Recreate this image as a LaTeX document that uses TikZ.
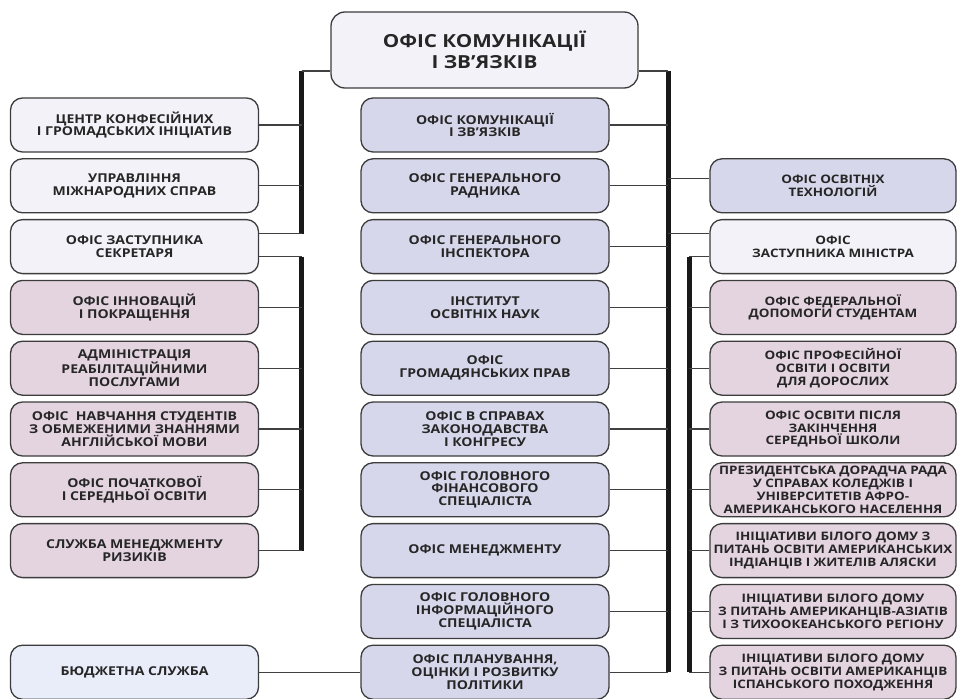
\documentclass[tikz,border=0pt]{standalone}
\usepackage{fontspec}
\newfontfamily\orgfont{Open Sans}[FakeStretch=1.15]
\usetikzlibrary{shapes}
\definecolor{paleface}{HTML}{F3F2F8}
\definecolor{bluface}{HTML}{D6D7EA}
\definecolor{pinkface}{HTML}{E3D4E0}
\definecolor{skyface}{HTML}{E9EDFA}
\definecolor{edgegray}{HTML}{3C3C3C}
\tikzstyle{office}=[draw=edgegray, line width=1.3, rounded corners=12,
  minimum width=248, minimum height=54, align=center, inner sep=2,
  text=black!85, font=\orgfont\bfseries\fontsize{12.2}{12.8}\selectfont]
\tikzstyle{rightoffice}=[office, minimum width=246, inner xsep=1,
  font=\orgfont\bfseries\fontsize{11.7}{12.8}\selectfont]
\tikzstyle{link}=[draw=black!75, line width=1.2]
\tikzstyle{bar}=[draw=black!90, line width=5]
\tikzset{every picture/.style={x=1pt,y=-1pt}}
\begin{document}
\begin{tikzpicture}
  \useasboundingbox (0,0) rectangle (957,698);
  % head office
  \node[office, fill=paleface, minimum width=307, minimum height=76, rounded corners=14,
    font=\orgfont\bfseries\fontsize{18}{21}\selectfont] (top) at (484.5,50) {ОФІС КОМУНІКАЦІЇ\\І ЗВ’ЯЗКІВ};
  % left column
  \node[office, fill=paleface] (l1) at (134.5,125) {ЦЕНТР КОНФЕСІЙНИХ\\І ГРОМАДСЬКИХ ІНІЦІАТИВ};
  \node[office, fill=paleface] (l2) at (134.5,185.8) {УПРАВЛІННЯ\\МІЖНАРОДНИХ СПРАВ};
  \node[office, fill=paleface] (l3) at (134.5,246.6) {ОФІС ЗАСТУПНИКА\\СЕКРЕТАРЯ};
  \node[office, fill=pinkface] (l4) at (134.5,307.4) {ОФІС ІННОВАЦІЙ\\І ПОКРАЩЕННЯ};
  \node[office, fill=pinkface] (l5) at (134.5,368.2) {АДМІНІСТРАЦІЯ\\РЕАБІЛІТАЦІЙНИМИ\\ПОСЛУГАМИ};
  \node[office, fill=pinkface] (l6) at (134.5,429) {ОФІС \ НАВЧАННЯ СТУДЕНТІВ\\З ОБМЕЖЕНИМИ ЗНАННЯМИ\\АНГЛІЙСЬКОЇ МОВИ};
  \node[office, fill=pinkface] (l7) at (134.5,489.8) {ОФІС ПОЧАТКОВОЇ\\І СЕРЕДНЬОЇ ОСВІТИ};
  \node[office, fill=pinkface] (l8) at (134.5,550.6) {СЛУЖБА МЕНЕДЖМЕНТУ\\РИЗИКІВ};
  \node[office, fill=skyface] (l10) at (134.5,672.2) {БЮДЖЕТНА СЛУЖБА};
  % middle column
  \node[office, fill=bluface] (m1) at (485,125) {ОФІС КОМУНІКАЦІЇ\\І ЗВ’ЯЗКІВ};
  \node[office, fill=bluface] (m2) at (485,185.8) {ОФІС ГЕНЕРАЛЬНОГО\\РАДНИКА};
  \node[office, fill=bluface] (m3) at (485,246.6) {ОФІС ГЕНЕРАЛЬНОГО\\ІНСПЕКТОРА};
  \node[office, fill=bluface] (m4) at (485,307.4) {ІНСТИТУТ\\ОСВІТНІХ НАУК};
  \node[office, fill=bluface] (m5) at (485,368.2) {ОФІС\\ГРОМАДЯНСЬКИХ ПРАВ};
  \node[office, fill=bluface] (m6) at (485,429) {ОФІС В СПРАВАХ\\ЗАКОНОДАВСТВА\\І КОНГРЕСУ};
  \node[office, fill=bluface] (m7) at (485,489.8) {ОФІС ГОЛОВНОГО\\ФІНАНСОВОГО\\СПЕЦІАЛІСТА};
  \node[office, fill=bluface] (m8) at (485,550.6) {ОФІС МЕНЕДЖМЕНТУ};
  \node[office, fill=bluface] (m9) at (485,611.4) {ОФІС ГОЛОВНОГО\\ІНФОРМАЦІЙНОГО\\СПЕЦІАЛІСТА};
  \node[office, fill=bluface] (m10) at (485,672.2) {ОФІС ПЛАНУВАННЯ,\\ОЦІНКИ І РОЗВИТКУ\\ПОЛІТИКИ};
  % right column
  \node[rightoffice, fill=bluface] (r2) at (833,185.8) {ОФІС ОСВІТНІХ\\ТЕХНОЛОГІЙ};
  \node[rightoffice, fill=paleface] (r3) at (833,246.6) {ОФІС\\ЗАСТУПНИКА МІНІСТРА};
  \node[rightoffice, fill=pinkface] (r4) at (833,307.4) {ОФІС ФЕДЕРАЛЬНОЇ\\ДОПОМОГИ СТУДЕНТАМ};
  \node[rightoffice, fill=pinkface] (r5) at (833,368.2) {ОФІС ПРОФЕСІЙНОЇ\\ОСВІТИ І ОСВІТИ\\ДЛЯ ДОРОСЛИХ};
  \node[rightoffice, fill=pinkface] (r6) at (833,429) {ОФІС ОСВІТИ ПІСЛЯ\\ЗАКІНЧЕННЯ\\СЕРЕДНЬОЇ ШКОЛИ};
  \node[rightoffice, fill=pinkface] (r7) at (833,489.8) {ПРЕЗИДЕНТСЬКА ДОРАДЧА РАДА\\У СПРАВАХ КОЛЕДЖІВ І\\УНІВЕРСИТЕТІВ АФРО-\\АМЕРИКАНСЬКОГО НАСЕЛЕННЯ};
  \node[rightoffice, fill=pinkface] (r8) at (833,550.6) {ІНІЦІАТИВИ БІЛОГО ДОМУ З\\ПИТАНЬ ОСВІТИ АМЕРИКАНСЬКИХ\\ІНДІАНЦІВ І ЖИТЕЛІВ АЛЯСКИ};
  \node[rightoffice, fill=pinkface] (r9) at (833,611.4) {ІНІЦІАТИВИ БІЛОГО ДОМУ\\З ПИТАНЬ АМЕРИКАНЦІВ-АЗІАТІВ\\І З ТИХООКЕАНСЬКОГО РЕГІОНУ};
  \node[rightoffice, fill=pinkface] (r10) at (833,672.2) {ІНІЦІАТИВИ БІЛОГО ДОМУ\\З ПИТАНЬ ОСВІТИ АМЕРИКАНЦІВ\\ІСПАНСЬКОГО ПОХОДЖЕННЯ};
  % bars
  \coordinate (lbar) at (301.5,71);
  \coordinate (lbarend) at (301.5,233.6);
  \coordinate (lbar2) at (301.5,256.6);
  \coordinate (lbar2end) at (301.5,550.6);
  \coordinate (mbar) at (668,71);
  \coordinate (mbarend) at (668,672.2);
  \coordinate (rbar) at (689,256.6);
  \coordinate (rbarend) at (689,672.2);
  \draw[bar] (lbar) -- (lbarend);
  \draw[bar] (lbar2) -- (lbar2end);
  \draw[bar] (mbar) -- (mbarend);
  \draw[bar] (rbar) -- (rbarend);
  % links
  \draw[link] (lbar) -- (lbar -| top.west);
  \draw[link] (mbar) -- (mbar -| top.east);
  \foreach \i in {1,2}
    \draw[link] (l\i.east) -- (l\i.east -| lbar);
  \draw[link] (lbarend) -- (lbarend -| l3.east);
  \draw[link] (lbar2) -- (lbar2 -| l3.east);
  \foreach \i in {4,...,8}
    \draw[link] (l\i.east) -- (l\i.east -| lbar);
  \draw[link] (l10) -- (m10);
  \foreach \i in {1,...,10}
    \draw[link] (m\i.east) -- (m\i.east -| mbar);
  \draw[link] ([yshift=7]r2.west) -- ([yshift=7]r2.west -| mbar);
  \draw[link] ([yshift=13]r3.west) -- ([yshift=13]r3.west -| mbar);
  \draw[link] (rbar) -- (rbar -| r3.west);
  \foreach \i in {4,...,10}
    \draw[link] (r\i.west) -- (r\i.west -| rbar);
\end{tikzpicture}
\end{document}
